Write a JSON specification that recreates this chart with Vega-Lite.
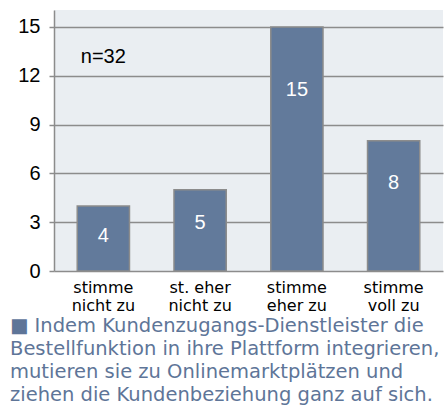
{
  "$schema": "https://vega.github.io/schema/vega-lite/v6.json",
  "width": 389,
  "height": 261,
  "autosize": {"type": "none"},
  "padding": {"left": 54, "top": 10, "right": 3, "bottom": 147},
  "background": "#ffffff",
  "view": {"fill": "#eaeef2", "stroke": null},
  "data": {
    "values": [
      {"antwort": "stimme nicht zu", "anzahl": 4},
      {"antwort": "st. eher nicht zu", "anzahl": 5},
      {"antwort": "stimme eher zu", "anzahl": 15},
      {"antwort": "stimme voll zu", "anzahl": 8}
    ]
  },
  "title": {
    "text": [
      "■ Indem Kundenzugangs-Dienstleister  die",
      "Bestellfunktion in ihre Plattform integrieren,",
      "mutieren sie zu Onlinemarktplätzen und",
      "ziehen die Kundenbeziehung  ganz auf sich."
    ],
    "orient": "bottom",
    "anchor": "start",
    "frame": "group",
    "dx": -44,
    "offset": 4,
    "font": "DejaVu Sans",
    "fontSize": 19.5,
    "fontWeight": "normal",
    "color": "#5e7598",
    "lineHeight": 23
  },
  "encoding": {
    "x": {
      "field": "antwort",
      "type": "nominal",
      "sort": null,
      "scale": {"paddingInner": 0.46, "paddingOuter": 0.24},
      "axis": {
        "title": null,
        "labelAngle": 0,
        "domain": false,
        "ticks": false,
        "labelFont": "DejaVu Sans",
        "labelFontSize": 16,
        "labelColor": "#000000",
        "labelLineHeight": 18,
        "labelPadding": 8,
        "labelLimit": 0,
        "labelExpr": "[substring(datum.label, 0, lastindexof(substring(datum.label, 0, lastindexof(datum.label, ' ')), ' ')), substring(datum.label, lastindexof(substring(datum.label, 0, lastindexof(datum.label, ' ')), ' ') + 1)]"
      }
    }
  },
  "layer": [
    {
      "mark": {"type": "bar", "fill": "#627a9b", "stroke": "#8c8c8c", "strokeWidth": 1.5},
      "encoding": {
        "y": {
          "field": "anzahl",
          "type": "quantitative",
          "scale": {"domain": [0, 16.04], "nice": false},
          "axis": {
            "title": null,
            "values": [0, 3, 6, 9, 12, 15],
            "labelFont": "Liberation Sans",
            "labelFontSize": 20,
            "labelColor": "#000000",
            "labelPadding": 9,
            "tickSize": 5,
            "tickColor": "#8c8c8c",
            "tickWidth": 1.5,
            "domainColor": "#8c8c8c",
            "domainWidth": 1.5,
            "grid": true,
            "gridColor": "#8c8c8c",
            "gridWidth": 1.5,
            "gridOpacity": 1
          }
        }
      }
    },
    {
      "mark": {"type": "text", "color": "#ffffff", "font": "Liberation Sans", "fontSize": 20, "baseline": "middle"},
      "encoding": {
        "y": {
          "field": "anzahl",
          "type": "quantitative",
          "scale": {"domain": [1.35, 21.03], "nice": false, "zero": false},
          "axis": null
        },
        "text": {"field": "anzahl", "type": "quantitative"}
      }
    },
    {
      "data": {"values": [{"hinweis": "n=32"}]},
      "mark": {"type": "text", "color": "#000000", "font": "Liberation Sans", "fontSize": 20, "baseline": "alphabetic", "align": "center"},
      "encoding": {
        "x": {"datum": "stimme nicht zu"},
        "y": {"datum": 12.8, "type": "quantitative", "scale": {"domain": [0, 16.04], "nice": false}, "axis": null},
        "text": {"field": "hinweis", "type": "nominal"}
      }
    }
  ],
  "resolve": {"scale": {"y": "independent"}}
}
